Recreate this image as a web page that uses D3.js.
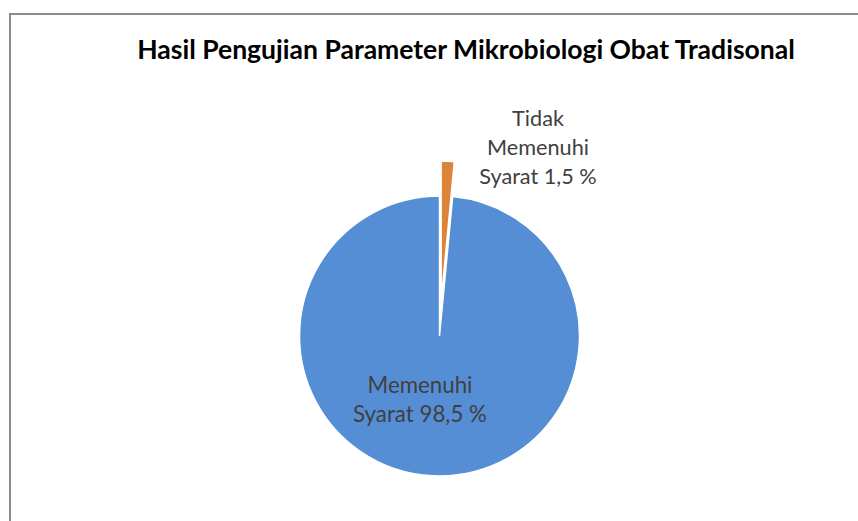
<!DOCTYPE html>
<html>
<head>
<meta charset="utf-8">
<script src="https://cdn.jsdelivr.net/npm/d3@7"></script>
<style>
  body { margin: 0; background: #fff; }
  svg text { font-family: Lato, "Open Sans", sans-serif; }
</style>
</head>
<body>
<div id="chart"></div>
<script>
var svgWidth = 858;
var svgHeight = 521;

// data
var categories = ["Tidak Memenuhi Syarat", "Memenuhi Syarat"];
var values = [1.5, 98.5];
var labelLines = [["Tidak", "Memenuhi", "Syarat 1,5 %"], ["Memenuhi", "Syarat 98,5 %"]];
var colors = ["#dd843b", "#558ed5"];
var titleText = "Hasil Pengujian Parameter Mikrobiologi Obat Tradisonal";

var cx = 439.5, cy = 336, radius = 140;
var explode = [35, 0];

var svg = d3.select("#chart")
  .append("svg")
  .attr("width", svgWidth)
  .attr("height", svgHeight);

// chart frame (right/bottom edges fall outside the view)
svg.append("rect")
  .attr("x", 10)
  .attr("y", 14)
  .attr("width", 880)
  .attr("height", 540)
  .attr("fill", "#fff")
  .attr("stroke", "#8c8c8c")
  .attr("stroke-width", 2);

// scale font so that text matches a target width
function fitWidth(sel, target) {
  var size = +sel.attr("font-size");
  var w = sel.node().getComputedTextLength();
  sel.attr("font-size", size * target / w);
  return size * target / w;
}

var title = svg.append("text")
  .attr("x", 466)
  .attr("y", 59)
  .attr("text-anchor", "middle")
  .attr("font-weight", "bold")
  .attr("font-size", 22)
  .attr("fill", "#000")
  .text(titleText);
fitWidth(title, 658);

var pie = d3.pie().sort(null).value(d => d);
var arcs = pie(values);
var arc = d3.arc().innerRadius(0).outerRadius(radius);

var pieGroup = svg.append("g")
  .attr("transform", `translate(${cx}, ${cy})`);

pieGroup.selectAll("path")
  .data(arcs)
  .enter()
  .append("path")
  .attr("transform", function(d, i) {
    var a = (d.startAngle + d.endAngle) / 2;
    return `translate(${Math.sin(a) * explode[i]}, ${-Math.cos(a) * explode[i]})`;
  })
  .attr("d", arc)
  .attr("fill", (d, i) => colors[i])
  .attr("stroke", "#fff")
  .attr("stroke-width", 1.5);

// data labels, sized so the "Memenuhi" line matches the reference width
var labelPos = [{x: 538, y: 126}, {x: 420, y: 393}];
var lineHeight = 29;
var refWidth = [102, 105];

labelLines.forEach(function(lines, i) {
  var texts = lines.map(function(line, j) {
    return svg.append("text")
      .attr("x", labelPos[i].x)
      .attr("y", labelPos[i].y + j * lineHeight)
      .attr("text-anchor", "middle")
      .attr("font-size", 18)
      .attr("fill", "#404040")
      .text(line);
  });
  var k = lines.indexOf("Memenuhi");
  var size = fitWidth(texts[k], refWidth[i]);
  texts.forEach(t => t.attr("font-size", size));
});
</script>
</body>
</html>
